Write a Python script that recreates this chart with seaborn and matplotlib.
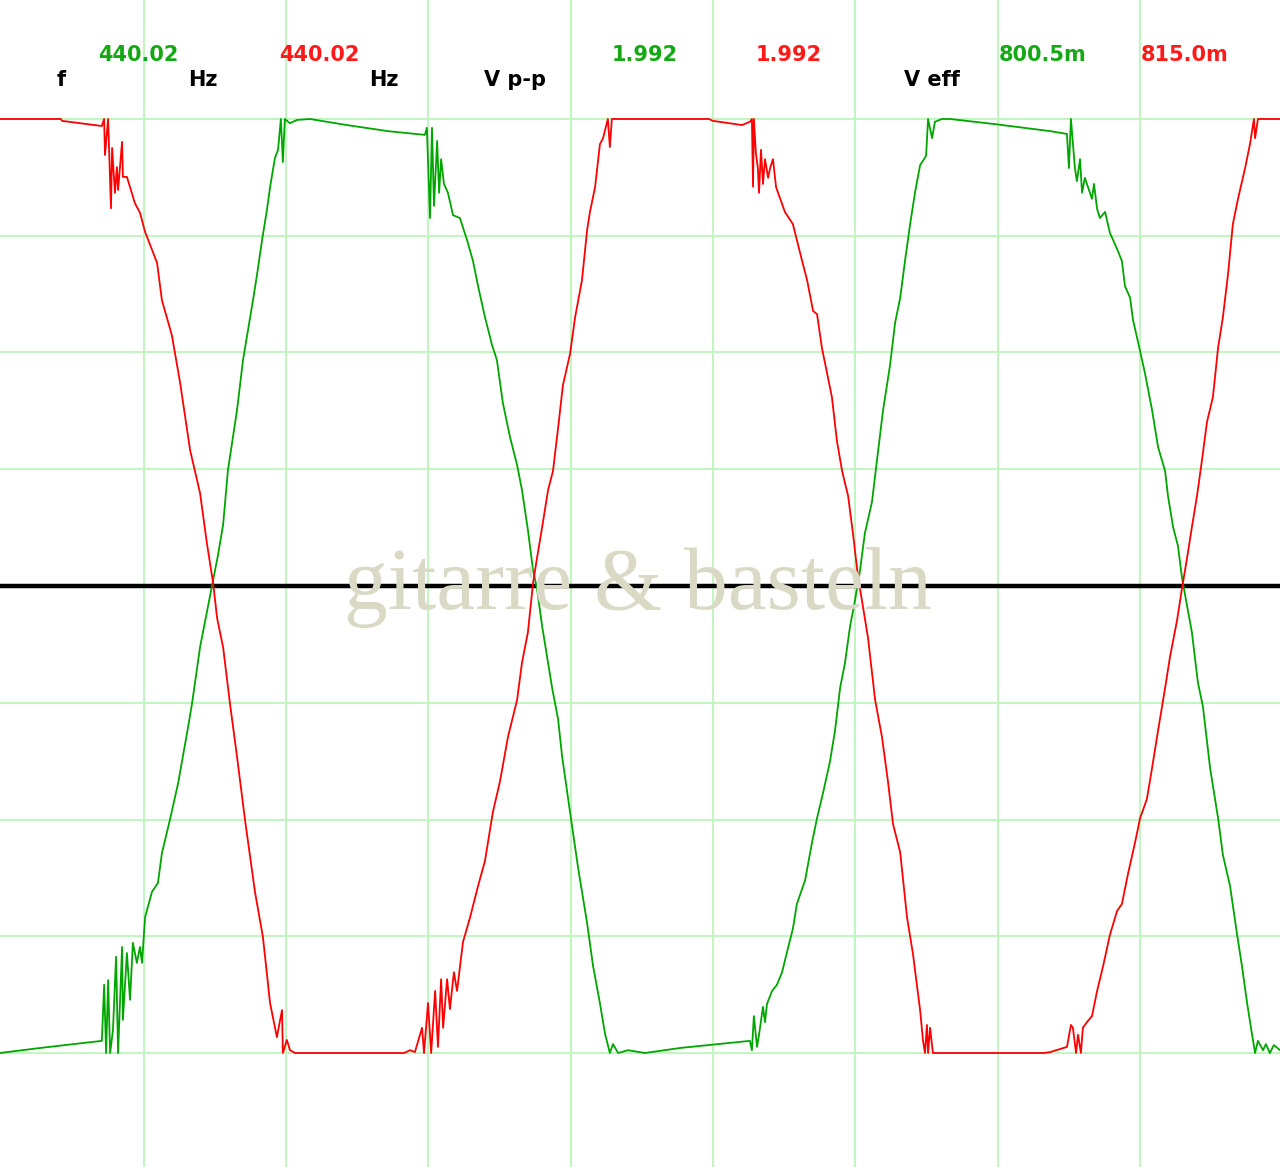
import numpy as np
import pandas as pd
import matplotlib
matplotlib.use("Agg")
import matplotlib.pyplot as plt
import seaborn as sns

# Soundcard scope capture, 0.5 ms/div, 0.25 V/div
green_t = [-0.005, 0.139, 0.353, 0.361, 0.368, 0.375, 0.382, 0.392, 0.403, 0.410,
           0.424, 0.427, 0.441, 0.452, 0.462, 0.476, 0.487, 0.494, 0.505, 0.529,
           0.550, 0.564, 0.592, 0.621, 0.656, 0.670, 0.698, 0.722, 0.740, 0.761,
           0.779, 0.796, 0.828, 0.849, 0.884, 0.898, 0.916, 0.933, 0.944, 0.961,
           0.972, 0.982, 0.989, 0.996, 1.014, 1.039, 1.084, 1.214, 1.358, 1.488,
           1.495, 1.506, 1.513, 1.520, 1.531, 1.538, 1.545, 1.555, 1.569, 1.587,
           1.611, 1.636, 1.657, 1.675, 1.699, 1.724, 1.741, 1.762, 1.787, 1.812,
           1.829, 1.850, 1.868, 1.882, 1.900, 1.935, 1.956, 1.970, 1.998, 2.026,
           2.058, 2.079, 2.103, 2.121, 2.138, 2.149, 2.167, 2.202, 2.261, 2.388,
           2.630, 2.637, 2.644, 2.655, 2.662, 2.676, 2.683, 2.690, 2.708, 2.725,
           2.743, 2.764, 2.781, 2.795, 2.824, 2.848, 2.866, 2.887, 2.911, 2.929,
           2.947, 2.964, 2.982, 2.999, 3.017, 3.034, 3.059, 3.077, 3.098, 3.122,
           3.140, 3.158, 3.175, 3.193, 3.210, 3.228, 3.249, 3.256, 3.270, 3.280,
           3.305, 3.333, 3.491, 3.685, 3.744, 3.751, 3.758, 3.765, 3.772, 3.779,
           3.790, 3.797, 3.807, 3.818, 3.832, 3.839, 3.850, 3.860, 3.878, 3.895,
           3.920, 3.937, 3.948, 3.966, 3.976, 3.994, 4.018, 4.043, 4.064, 4.089,
           4.099, 4.117, 4.134, 4.148, 4.159, 4.183, 4.204, 4.222, 4.247, 4.275,
           4.292, 4.317, 4.342, 4.359, 4.377, 4.394, 4.405, 4.415, 4.433, 4.443,
           4.457, 4.471, 4.493]
green_v = [-1.000, -0.989, -0.974, -0.854, -1.000, -0.844, -1.000, -0.951, -0.794, -1.000,
           -0.773, -0.929, -0.786, -0.886, -0.764, -0.807, -0.773, -0.807, -0.709, -0.655,
           -0.636, -0.572, -0.501, -0.422, -0.302, -0.251, -0.131, -0.056, 0.000, 0.066,
           0.131, 0.248, 0.377, 0.484, 0.612, 0.666, 0.741, 0.805, 0.854, 0.916,
           0.934, 1.000, 0.908, 1.000, 0.991, 0.998, 1.000, 0.987, 0.974, 0.966,
           0.981, 0.788, 0.981, 0.814, 0.953, 0.842, 0.914, 0.861, 0.842, 0.794,
           0.788, 0.741, 0.696, 0.642, 0.576, 0.516, 0.484, 0.392, 0.319, 0.259,
           0.206, 0.120, 0.034, -0.006, -0.086, -0.218, -0.285, -0.364, -0.484, -0.602,
           -0.722, -0.814, -0.893, -0.959, -1.000, -0.981, -1.000, -0.994, -1.000, -0.989,
           -0.974, -0.994, -0.921, -0.987, -0.961, -0.901, -0.934, -0.895, -0.867, -0.854,
           -0.827, -0.775, -0.734, -0.681, -0.630, -0.550, -0.497, -0.443, -0.377, -0.310,
           -0.218, -0.165, -0.086, -0.032, 0.034, 0.113, 0.180, 0.272, 0.377, 0.471,
           0.563, 0.617, 0.696, 0.775, 0.842, 0.901, 0.921, 1.000, 0.959, 0.994,
           1.000, 1.000, 0.989, 0.974, 0.968, 0.895, 1.000, 0.946, 0.895, 0.867,
           0.914, 0.842, 0.874, 0.854, 0.829, 0.861, 0.807, 0.788, 0.801, 0.756,
           0.722, 0.696, 0.642, 0.617, 0.570, 0.522, 0.456, 0.377, 0.298, 0.246,
           0.193, 0.126, 0.086, 0.019, -0.019, -0.099, -0.206, -0.259, -0.390, -0.497,
           -0.576, -0.642, -0.747, -0.814, -0.893, -0.959, -1.000, -0.974, -0.994, -0.981,
           -1.000, -0.983, -0.994]

red_t = [-0.005, 0.209, 0.213, 0.353, 0.361, 0.364, 0.375, 0.385, 0.389, 0.399,
         0.406, 0.410, 0.424, 0.427, 0.441, 0.452, 0.469, 0.487, 0.505, 0.547,
         0.564, 0.599, 0.628, 0.663, 0.698, 0.722, 0.744, 0.758, 0.779, 0.803,
         0.828, 0.856, 0.891, 0.919, 0.944, 0.968, 0.986, 0.989, 1.003, 1.014,
         1.032, 1.415, 1.436, 1.453, 1.478, 1.485, 1.499, 1.510, 1.524, 1.534,
         1.545, 1.552, 1.566, 1.576, 1.590, 1.601, 1.622, 1.647, 1.675, 1.699,
         1.727, 1.752, 1.780, 1.812, 1.829, 1.850, 1.868, 1.882, 1.900, 1.921,
         1.938, 1.956, 1.973, 1.998, 2.016, 2.040, 2.058, 2.068, 2.086, 2.103,
         2.114, 2.131, 2.138, 2.145, 2.486, 2.500, 2.602, 2.630, 2.637, 2.641,
         2.644, 2.651, 2.658, 2.662, 2.669, 2.676, 2.683, 2.694, 2.701, 2.711,
         2.722, 2.729, 2.753, 2.781, 2.795, 2.816, 2.831, 2.852, 2.866, 2.883,
         2.918, 2.936, 2.954, 2.975, 2.992, 3.010, 3.024, 3.045, 3.070, 3.094,
         3.115, 3.133, 3.158, 3.182, 3.203, 3.228, 3.238, 3.245, 3.252, 3.256,
         3.263, 3.273, 3.663, 3.685, 3.744, 3.758, 3.765, 3.776, 3.783, 3.793,
         3.800, 3.814, 3.832, 3.850, 3.871, 3.895, 3.920, 3.937, 3.959, 3.983,
         4.001, 4.025, 4.043, 4.064, 4.089, 4.106, 4.131, 4.148, 4.166, 4.183,
         4.201, 4.219, 4.236, 4.257, 4.275, 4.292, 4.310, 4.327, 4.345, 4.370,
         4.387, 4.401, 4.405, 4.415, 4.493]
red_v = [1.000, 1.000, 0.996, 0.985, 1.000, 0.923, 1.000, 0.809, 0.938, 0.842,
         0.897, 0.848, 0.951, 0.876, 0.876, 0.854, 0.820, 0.799, 0.758, 0.692,
         0.612, 0.537, 0.435, 0.291, 0.199, 0.092, 0.006, -0.069, -0.131, -0.251,
         -0.366, -0.501, -0.655, -0.752, -0.893, -0.966, -0.908, -1.000, -0.972, -0.994,
         -1.000, -1.000, -0.994, -0.998, -0.946, -1.000, -0.893, -1.000, -0.867, -0.987,
         -0.842, -0.946, -0.842, -0.906, -0.827, -0.867, -0.762, -0.709, -0.642, -0.589,
         -0.484, -0.418, -0.323, -0.244, -0.165, -0.099, 0.006, 0.060, 0.126, 0.206,
         0.246, 0.338, 0.430, 0.497, 0.576, 0.655, 0.762, 0.801, 0.854, 0.946,
         0.959, 1.000, 0.940, 1.000, 1.000, 0.996, 0.987, 0.994, 1.000, 0.855,
         1.000, 0.927, 0.895, 0.842, 0.934, 0.861, 0.914, 0.874, 0.895, 0.914,
         0.854, 0.842, 0.801, 0.775, 0.741, 0.690, 0.655, 0.589, 0.582, 0.510,
         0.405, 0.310, 0.246, 0.193, 0.113, 0.019, -0.032, -0.111, -0.244, -0.323,
         -0.418, -0.510, -0.570, -0.709, -0.788, -0.908, -0.972, -1.000, -0.940, -1.000,
         -0.946, -1.000, -1.000, -0.998, -0.987, -0.940, -0.946, -1.000, -0.961, -1.000,
         -0.946, -0.934, -0.921, -0.867, -0.814, -0.747, -0.696, -0.681, -0.615, -0.550,
         -0.497, -0.456, -0.390, -0.310, -0.218, -0.152, -0.073, -0.006, 0.060, 0.126,
         0.193, 0.272, 0.351, 0.405, 0.510, 0.576, 0.668, 0.775, 0.829, 0.895,
         0.946, 1.000, 0.959, 1.000, 1.000]

# readout row at the top of the scope window
value_texts = ["440.02", "440.02", "1.992", "1.992", "800.5m", "815.0m"]
value_colors = ["#14a814", "#ff1a1a", "#14a814", "#ff1a1a", "#14a814", "#ff1a1a"]
value_left = [98, 279, 612, 756, 999, 1141]
unit_texts = ["f", "Hz", "Hz", "V p-p", "V eff"]
unit_left = [57, 188, 369, 484, 904]

W, H = 1280, 1167

green_df = pd.DataFrame({"t": green_t, "v": green_v})
red_df = pd.DataFrame({"t": red_t, "v": red_v})

sns.set_style("white")
fig = plt.figure(figsize=(W / 100, H / 100), dpi=100)
ax = fig.add_axes([0, 0, 1, 1])

ax.set_xlim(-0.0049, 4.4926)
ax.set_ylim(-1.2441, 1.2548)
ax.set_xticks(np.arange(0.5, 4.01, 0.5))
ax.set_yticks(np.arange(-1.0, 1.01, 0.25))
ax.grid(True, color="#c2f5c2", linewidth=1.5, zorder=0)
ax.set_axisbelow(True)
ax.tick_params(length=0, labelbottom=False, labelleft=False)
for s in ax.spines.values():
    s.set_visible(False)

# watermark
fig.text(0.498, 1 - 609 / H, "gitarre & basteln", family="Liberation Serif",
         fontsize=63, color="#d9d9c5", ha="center", va="baseline", zorder=1)

ax.axhline(0, color="black", linewidth=3.2, zorder=2)

sns.lineplot(data=green_df, x="t", y="v", ax=ax, color="#00a600", linewidth=1.3,
             sort=False, estimator=None, zorder=3)
sns.lineplot(data=red_df, x="t", y="v", ax=ax, color="#ff0000", linewidth=1.3,
             sort=False, estimator=None, zorder=4)
ax.set_xlabel("")
ax.set_ylabel("")

for txt, col, x in zip(value_texts, value_colors, value_left):
    fig.text(x / W, 1 - 55 / H, txt, color=col, fontsize=15, fontweight="bold",
             family="DejaVu Sans", ha="left", va="center")
for txt, x in zip(unit_texts, unit_left):
    fig.text(x / W, 1 - 80 / H, txt, color="black", fontsize=15, fontweight="bold",
             family="DejaVu Sans", ha="left", va="center")

fig.savefig("out.png", dpi=100)
